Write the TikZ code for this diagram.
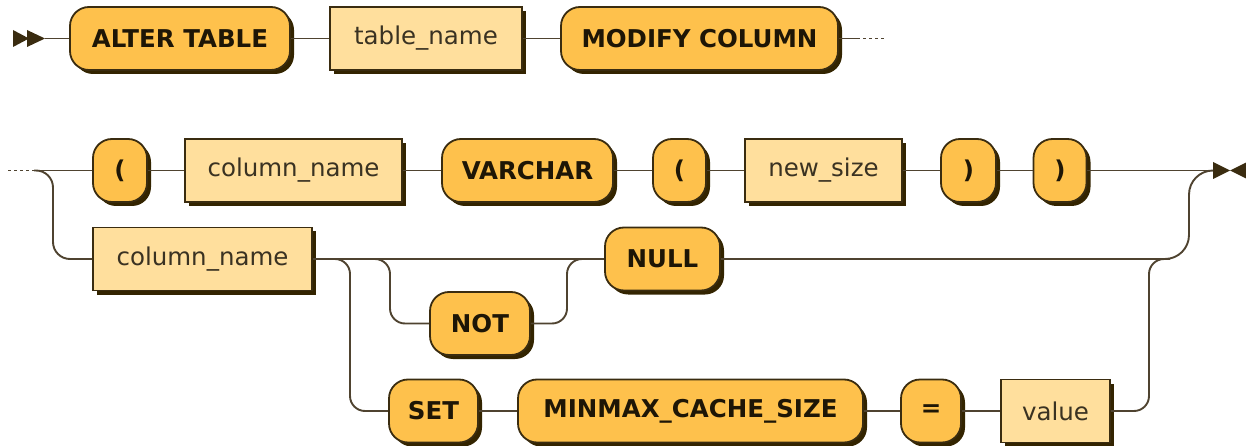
\documentclass[tikz,border=0pt]{standalone}
\usepackage{fontspec}
\setmainfont{DejaVu Sans}
\usetikzlibrary{shadows}
\definecolor{termfill}{HTML}{FEC14C}
\definecolor{ntfill}{HTML}{FFDF9D}
\definecolor{edge}{HTML}{3A2C10}
\definecolor{linec}{HTML}{4F4330}
\definecolor{shad}{HTML}{332400}
\definecolor{txt}{HTML}{1E1606}
\definecolor{nttxt}{HTML}{3A3222}
\begin{document}
\begin{tikzpicture}[x=1pt,y=-1pt,
  base/.style={draw=edge, line width=1.8pt, inner sep=0pt, minimum height=63pt,
    drop shadow={shadow xshift=4pt, shadow yshift=-4pt, fill=shad, opacity=1}},
  term/.style={base, fill=termfill, rounded corners=19pt, text=txt,
    font=\fontsize{24.5}{28}\selectfont\bfseries},
  nonterm/.style={base, fill=ntfill, text=nttxt, font=\fontsize{24.5}{28}\selectfont},
  rail/.style={draw=linec, line width=1.9pt, rounded corners=17pt},
  dots/.style={draw=linec, line width=1.9pt, dash pattern=on 3pt off 3pt},
  marker/.style={fill=edge, draw=none}]
\useasboundingbox (0,0) rectangle (1246,446);

% row 1
\node[term, minimum width=220pt] (alter) at (180,38.5) {ALTER TABLE};
\node[nonterm, minimum width=192pt] (tname) at (426,38.5) {table\_name};
\node[term, minimum width=277pt] (modify) at (699.5,38.5) {MODIFY COLUMN};
\coordinate (st) at (45,38.5);
\coordinate (r1e) at (857,38.5);
\coordinate (r1d) at (884,38.5);
\fill[marker] (13,30) -- (29,38.5) -- (13,47) -- cycle;
\fill[marker] (27,30) -- (45,38.5) -- (27,47) -- cycle;
\draw[rail] (st) -- (alter.west);
\draw[rail] (alter.east) -- (tname.west);
\draw[rail] (tname.east) -- (modify.west);
\draw[rail] (modify.east) -- (r1e);
\draw[dots] (r1e) -- (r1d);

% row 2
\node[term, minimum width=54pt] (lp1) at (120,170.5) {(};
\node[nonterm, minimum width=217pt] (cname1) at (293.5,170.5) {column\_name};
\node[term, minimum width=171pt] (varchar) at (527.5,170.5) {VARCHAR};
\node[term, minimum width=53pt] (lp2) at (679.5,170.5) {(};
\node[nonterm, minimum width=157pt] (newsize) at (823.5,170.5) {new\_size};
\node[term, minimum width=55pt] (rp1) at (968.5,170.5) {)};
\node[term, minimum width=53pt] (rp2) at (1060,170.5) {)};
\coordinate (s2d) at (8,170.5);
\coordinate (s2) at (34,170.5);
\coordinate (en) at (1213,170.5);
\draw[dots] (s2d) -- (s2);
\draw[rail] (s2) -- (lp1.west);
\draw[rail] (lp1.east) -- (cname1.west);
\draw[rail] (cname1.east) -- (varchar.west);
\draw[rail] (varchar.east) -- (lp2.west);
\draw[rail] (lp2.east) -- (newsize.west);
\draw[rail] (newsize.east) -- (rp1.west);
\draw[rail] (rp1.east) -- (rp2.west);
\draw[rail] (rp2.east) -- (en);
\fill[marker] (1213,162) -- (1230,170.5) -- (1213,179) -- cycle;
\fill[marker] (1247,162) -- (1230,170.5) -- (1247,179) -- cycle;

% row 3
\node[nonterm, minimum width=219pt] (cname2) at (202.5,259) {column\_name};
\node[term, minimum width=115pt] (null) at (662.5,259) {NULL};
\node[term, minimum width=100pt] (not) at (480,323.5) {NOT};
\draw[rail] (s2) -- (53,170.5) -- (53,259) -- (cname2.west);
\draw[rail] (cname2.east) -- (null.west);
\draw[rail, rounded corners=15pt] (335,259) -- (350,259) -- (350,411) -- (389,411);
\draw[rail, rounded corners=15pt] (375,259) -- (390,259) -- (390,323.5) -- (not.west);
\draw[rail, rounded corners=15pt] (not.east) -- (567,323.5) -- (567,259) -- (585,259);
\draw[rail, rounded corners=24pt] (null.east) -- (1189,259) -- (1189,170.5) -- (1213,170.5);

% row 4
\node[term, minimum width=89pt] (set) at (433.5,411) {SET};
\node[term, minimum width=345pt] (minmax) at (690.5,411) {MINMAX\_CACHE\_SIZE};
\node[term, minimum width=60pt] (eq) at (931,411) {=};
\node[nonterm, minimum width=109pt] (value) at (1055.5,411) {value};
\draw[rail] (set.east) -- (minmax.west);
\draw[rail] (minmax.east) -- (eq.west);
\draw[rail] (eq.east) -- (value.west);
\draw[rail, rounded corners=15pt] (value.east) -- (1149,411) -- (1149,259) -- (1170,259);
\end{tikzpicture}
\end{document}
